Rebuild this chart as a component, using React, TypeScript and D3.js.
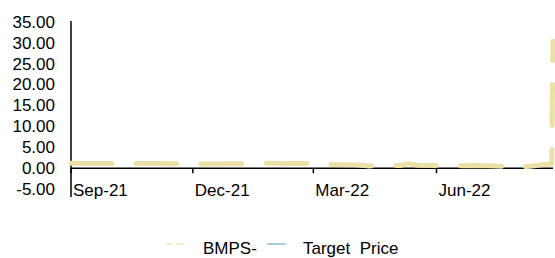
import React from "react";
import * as d3 from "d3";

const dates: string[] = [
  "2021-09-01","2021-09-15","2021-10-01","2021-10-15","2021-11-01","2021-11-15",
  "2021-12-01","2021-12-15","2022-01-01","2022-01-15","2022-02-01","2022-02-08",
  "2022-02-15","2022-03-01","2022-03-15","2022-04-01","2022-04-12","2022-04-25",
  "2022-05-05","2022-05-11","2022-05-18","2022-06-01","2022-06-15","2022-07-01",
  "2022-07-15","2022-07-29","2022-08-10","2022-08-20","2022-08-26","2022-08-27",
];
const bmps: number[] = [
  1.2,1.15,1.1,1.1,1.15,1.05,
  1.0,1.0,1.05,1.15,1.2,1.05,
  1.2,1.05,0.9,0.85,0.55,0.6,
  0.65,1.1,0.7,0.65,0.6,0.65,
  0.55,0.25,0.45,0.9,1.0,30.5,
];
const targetPrice: (number | null)[] = [];
const yTicks: number[] = [-5, 0, 5, 10, 15, 20, 25, 30, 35];
const xTickDates: string[] = ["2021-09-01", "2021-12-01", "2022-03-01", "2022-06-01"];
const legendLabels: string[] = ["BMPS-", "Target  Price"];

const parse = d3.timeParse("%Y-%m-%d");
const fmt = d3.timeFormat("%b-%y");

export default function App() {
  const x = d3
    .scaleTime()
    .domain([parse(dates[0])!, parse(dates[dates.length - 1])!])
    .range([71, 553]);
  const y = d3.scaleLinear().domain([-5, 35]).range([189, 22.5]);
  const data = dates.map((d, i) => ({ d: parse(d)!, v: bmps[i] }));
  const line = d3
    .line<{ d: Date; v: number }>()
    .x((p) => x(p.d))
    .y((p) => y(p.v));
  const font = "'Liberation Sans', Arial, sans-serif";
  const y0 = y(0);
  return (
    <svg
      width={555}
      height={258}
      style={{ position: "absolute", left: 0, top: 0, background: "#fff" }}
      fontFamily={font}
    >
      {yTicks.map((t) => (
        <text key={t} x={55} y={y(t)} textAnchor="end" dominantBaseline="central" fontSize={17} fill="#000">
          {t.toFixed(2)}
        </text>
      ))}
      <line x1={71} x2={71} y1={21} y2={197} stroke="#000" strokeWidth={1.5} />
      <line x1={71} x2={553} y1={y0} y2={y0} stroke="#000" strokeWidth={1.5} />
      {xTickDates.map((t) => {
        const xx = x(parse(t)!);
        return (
          <g key={t}>
            <line x1={xx} x2={xx} y1={y0} y2={y0 + 5} stroke="#000" strokeWidth={1.5} />
            <text x={xx + 2} y={190} dominantBaseline="central" fontSize={17} fill="#000">
              {fmt(parse(t)!)}
            </text>
          </g>
        );
      })}
      <path
        d={line(data) || ""}
        fill="none"
        stroke="#EBE1A6"
        strokeWidth={5}
        strokeLinecap="round"
        strokeLinejoin="round"
        strokeDasharray="41 24"
      />
      {targetPrice.length > 0 && null}
      <line x1={166} x2={185} y1={244} y2={244} stroke="#F2ECD2" strokeWidth={2} strokeDasharray="7 3" />
      <text x={203} y={254} fontSize={17} fill="#000">{legendLabels[0]}</text>
      <line x1={267} x2={286} y1={244} y2={244} stroke="#A9CFDF" strokeWidth={2} />
      <text x={303} y={254} fontSize={17} fill="#000" style={{ whiteSpace: "pre" }}>{legendLabels[1]}</text>
    </svg>
  );
}
